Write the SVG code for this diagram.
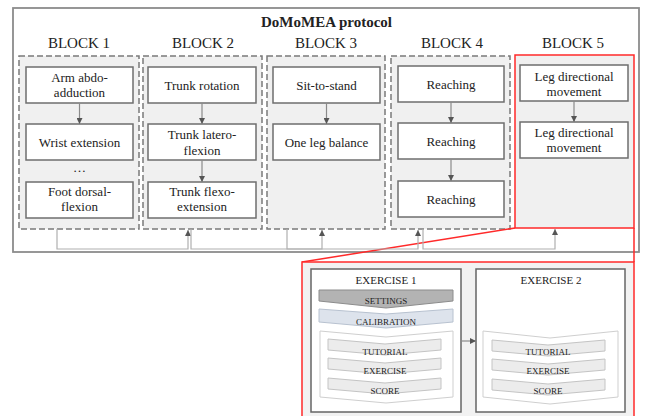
<svg xmlns="http://www.w3.org/2000/svg" width="645" height="416" viewBox="0 0 645 416" font-family="Liberation Serif, Times New Roman, serif">
<style>
text{fill:#222;text-anchor:middle}
.t{font-size:13px}
.blk{font-size:15px}
.sm{font-size:9px}
.dash{fill:#f0f0f0;stroke:#7a7a7a;stroke-width:1.5;stroke-dasharray:6,3}
.box{fill:#fff;stroke:#6e6e6e;stroke-width:1.5}
.red{stroke:#ff2a2a;stroke-width:1.5}
.ln{fill:none;stroke:#8a8a8a;stroke-width:1.2}
.bl{fill:none;stroke:#b0b0b0;stroke-width:1.2}
.big{fill:#fff;stroke:#cfcfcf;stroke-width:1}
.chv{fill:#ececec;stroke:#c4c4c4;stroke-width:1}
</style>
<defs>
<marker id="ah" viewBox="0 0 10 10" refX="10" refY="5" markerWidth="6" markerHeight="6" markerUnits="userSpaceOnUse" orient="auto">
<path d="M0,0 L10,5 L0,10 z" fill="#555"/>
</marker>
</defs>
<rect x="0" y="0" width="645" height="416" fill="#fff"/>
<g id="protocol">
<rect x="13" y="8" width="626" height="244" fill="#fff" stroke="#8c8c8c" stroke-width="1.8"/>
<text x="326.5" y="27" font-size="15" font-weight="bold">DoMoMEA protocol</text>
</g>
<g id="block1">
<text class="blk" x="79" y="48">BLOCK 1</text>
<rect class="dash" x="19" y="56" width="120" height="173"/>
<rect class="box" x="26" y="67" width="107" height="36"/>
<text class="t" x="79.5" y="82">Arm abdo-</text>
<text class="t" x="79.5" y="97">adduction</text>
<rect class="box" x="26" y="124" width="107" height="36"/>
<text class="t" x="79.5" y="147">Wrist extension</text>
<text class="t" x="79.5" y="172">…</text>
<rect class="box" x="26" y="182" width="107" height="36"/>
<text class="t" x="79.5" y="196">Foot dorsal-</text>
<text class="t" x="79.5" y="211">flexion</text>
</g>
<g id="block2">
<text class="blk" x="203" y="48">BLOCK 2</text>
<rect class="dash" x="143" y="56" width="119" height="173"/>
<rect class="box" x="148" y="67" width="108" height="36"/>
<text class="t" x="202" y="90">Trunk rotation</text>
<rect class="box" x="148" y="124" width="108" height="36"/>
<text class="t" x="202" y="139">Trunk latero-</text>
<text class="t" x="202" y="155">flexion</text>
<rect class="box" x="148" y="182" width="108" height="36"/>
<text class="t" x="202" y="196">Trunk flexo-</text>
<text class="t" x="202" y="211">extension</text>
</g>
<g id="block3">
<text class="blk" x="326" y="48">BLOCK 3</text>
<rect class="dash" x="267" y="56" width="118" height="173"/>
<rect class="box" x="273" y="67" width="107" height="36"/>
<text class="t" x="326.5" y="90">Sit-to-stand</text>
<rect class="box" x="273" y="124" width="107" height="36"/>
<text class="t" x="326.5" y="147">One leg balance</text>
</g>
<g id="block4">
<text class="blk" x="452" y="48">BLOCK 4</text>
<rect class="dash" x="391" y="56" width="119" height="173"/>
<rect class="box" x="398" y="66" width="106" height="36"/>
<text class="t" x="451" y="89">Reaching</text>
<rect class="box" x="398" y="123" width="106" height="36"/>
<text class="t" x="451" y="146">Reaching</text>
<rect class="box" x="398" y="181" width="106" height="36"/>
<text class="t" x="451" y="204">Reaching</text>
</g>
<g id="block5">
<text class="blk" x="573" y="48">BLOCK 5</text>
<rect x="515" y="55" width="119" height="173" fill="#f0f0f0" class="red"/>
<rect class="box" x="520" y="65" width="108" height="36"/>
<text class="t" x="574" y="81">Leg directional</text>
<text class="t" x="574" y="96">movement</text>
<rect class="box" x="520" y="122" width="108" height="36"/>
<text class="t" x="574" y="137">Leg directional</text>
<text class="t" x="574" y="152">movement</text>
</g>
<g id="detail">
<path class="red" fill="none" d="M515,228 L302,262 M634,228 V262"/>
<rect x="302" y="262" width="332" height="160" fill="#f2f2f2" class="red"/>
</g>
<g id="exercise1">
<rect x="311" y="269" width="150" height="143" fill="#fff" stroke="#666" stroke-width="1.5"/>
<text x="386" y="284" font-size="11">EXERCISE 1</text>
<polygon points="320,331 386,337 453,331 453,397 386,403 320,397" class="big"/>
<polygon points="319,309 386,314 453,309 453,322 386,328 319,322" fill="#dde3ec" stroke="#b8c2d0" stroke-width="1"/>
<polygon points="319,290 453,290 453,301 386,308 319,301" fill="#b3b3b3" stroke="#8c8c8c" stroke-width="1"/>
<text class="sm" x="386" y="304">SETTINGS</text>
<text class="sm" x="386" y="325">CALIBRATION</text>
<polygon points="328,339 385,344 441,339 441,350 385,355 328,350" class="chv"/>
<polygon points="328,358 385,363 441,358 441,369 385,374 328,369" class="chv"/>
<polygon points="328,378 385,383 441,378 441,389 385,394 328,389" class="chv"/>
<text class="sm" x="385" y="355">TUTORIAL</text>
<text class="sm" x="385" y="374">EXERCISE</text>
<text class="sm" x="385" y="394">SCORE</text>
</g>
<g id="exercise2">
<rect x="476" y="269" width="149" height="143" fill="#fff" stroke="#666" stroke-width="1.5"/>
<text x="551" y="284" font-size="11">EXERCISE 2</text>
<polygon points="483,331 550,338 618,331 618,397 550,404 483,397" class="big"/>
<polygon points="492,340 548,345 605,340 605,351 548,356 492,351" class="chv"/>
<polygon points="492,359 548,364 605,359 605,370 548,375 492,370" class="chv"/>
<polygon points="492,379 548,384 605,379 605,390 548,395 492,390" class="chv"/>
<text class="sm" x="548" y="355">TUTORIAL</text>
<text class="sm" x="548" y="374">EXERCISE</text>
<text class="sm" x="548" y="394">SCORE</text>
</g>
<g id="connectors">
<path class="ln" d="M79.5,103 V124" marker-end="url(#ah)"/>
<path class="ln" d="M202,103 V124" marker-end="url(#ah)"/>
<path class="ln" d="M202,160 V182" marker-end="url(#ah)"/>
<path class="ln" d="M326.5,103 V124" marker-end="url(#ah)"/>
<path class="ln" d="M451,102 V123" marker-end="url(#ah)"/>
<path class="ln" d="M451,159 V181" marker-end="url(#ah)"/>
<path class="ln" d="M574,101 V122" marker-end="url(#ah)"/>
<path class="bl" d="M57,229 V249 H188 V230" marker-end="url(#ah)"/>
<path class="bl" d="M191,229 V249 H322 V230" marker-end="url(#ah)"/>
<path class="bl" d="M287,229 V249 H418 V230" marker-end="url(#ah)"/>
<path class="bl" d="M423,229 V249 H555 V229" marker-end="url(#ah)"/>
<path class="ln" stroke="#555" d="M461,341 H476" marker-end="url(#ah)"/>
</g>
</svg>
